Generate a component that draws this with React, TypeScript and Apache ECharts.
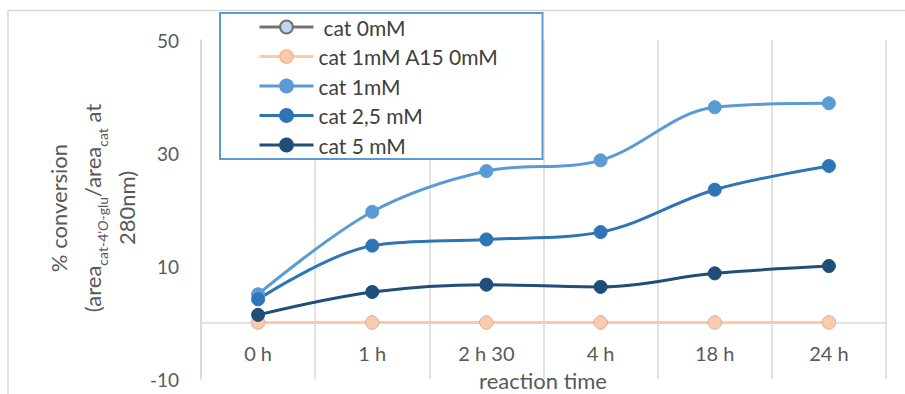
import React, { useEffect, useRef } from 'react';
import * as echarts from 'echarts';

const categories = ['0 h', '1 h', '2 h 30', '4 h', '18 h', '24 h'];
const seriesNames = ['cat 0mM', 'cat 1mM A15 0mM', 'cat 1mM', 'cat 2,5 mM', 'cat 5 mM'];
const cat0mM = [0, 0, 0, 0, 0, 0];
const cat1mMA15 = [0, 0, 0, 0, 0, 0];
const cat1mM = [5.0, 19.6, 26.8, 28.7, 38.1, 38.8];
const cat25mM = [4.1, 13.6, 14.7, 16.0, 23.5, 27.7];
const cat5mM = [1.35, 5.4, 6.7, 6.3, 8.7, 10.0];
const yTickLabels = [-10, 10, 30, 50];
const yMin = -10;
const yMax = 50;
const xTitle = 'reaction time';

export default function App() {
  const ref = useRef<HTMLDivElement>(null);
  useEffect(() => {
    const chart = echarts.init(ref.current!, null, { renderer: 'svg' });
    const font = 'Lato';
    const grey = '#595959';
    const gridColor = '#d9d9d9';
    const gridTop = 40;
    const gridBottom = 15;
    const gridHeight = 394 - gridTop - gridBottom;
    // distance of the zero line above the grid bottom, derived from the value scale
    const zeroOffset = (gridHeight * (0 - yMin)) / (yMax - yMin);
    const mk = (name: string, data: number[], line: string, fill: string, border: string) => ({
      name,
      type: 'line',
      data,
      xAxisIndex: 0,
      smooth: 0.35,
      symbol: 'circle',
      symbolSize: 13,
      lineStyle: { color: line, width: 3 },
      itemStyle: { color: fill, borderColor: border, borderWidth: 1 },
      emphasis: { disabled: true },
    });
    chart.setOption({
      animation: false,
      grid: { left: 201, right: 19, top: gridTop, bottom: gridBottom, containLabel: false, outerBoundsMode: 'none' },
      xAxis: [
        {
          type: 'category',
          data: categories,
          boundaryGap: true,
          axisLine: { onZero: true, lineStyle: { color: gridColor, width: 1.5 } },
          axisTick: { show: false },
          splitLine: { show: true, lineStyle: { color: gridColor, width: 1.5 } },
          axisLabel: { show: false },
        },
        {
          type: 'category',
          data: categories,
          boundaryGap: true,
          position: 'bottom',
          offset: -zeroOffset,
          axisLine: { show: false, onZero: false },
          axisTick: { show: false },
          splitLine: { show: false },
          axisLabel: { color: grey, fontSize: 20, fontFamily: font, margin: 20 },
        },
      ],
      yAxis: {
        type: 'value',
        min: yMin,
        max: yMax,
        interval: 10,
        axisLine: { show: true, lineStyle: { color: gridColor, width: 1.5 } },
        axisTick: { show: false },
        splitLine: { show: false },
        axisLabel: {
          color: grey,
          fontSize: 19,
          fontFamily: font,
          margin: 22,
          formatter: (v: number) => (yTickLabels.includes(v) ? String(v) : ''),
        },
      },
      legend: {
        orient: 'vertical',
        left: 220,
        top: 13,
        padding: [3, 24, 3, 38],
        itemWidth: 54,
        itemHeight: 16,
        itemGap: 7.5,
        itemTextGap: 5,
        backgroundColor: '#ffffff',
        borderColor: '#5B9BD5',
        borderWidth: 2,
        lineStyle: { width: 3 },
        data: seriesNames,
        formatter: (name: string) => (name === 'cat 0mM' ? '{p|' + name + '}' : name),
        textStyle: {
          color: '#404040',
          fontSize: 21,
          fontFamily: font,
          lineHeight: 22,
          width: 200,
          rich: {
            p: { padding: [0, 0, 0, 5], color: '#404040', fontSize: 21, fontFamily: font, lineHeight: 22 },
          },
        },
      },
      graphic: [
        {
          type: 'rect',
          z: -10,
          silent: true,
          shape: { x: 8, y: 10.5, width: 1000, height: 500 },
          style: { fill: 'none', stroke: gridColor, lineWidth: 1.5 },
        },
        {
          type: 'text',
          x: 543,
          y: 380,
          style: { text: xTitle, fill: grey, fontSize: 22, fontFamily: font, align: 'center', verticalAlign: 'middle' },
        },
        {
          type: 'text',
          x: 92,
          y: 208,
          rotation: Math.PI / 2,
          style: {
            text: "{m|% conversion}\n{m|(area}{s|cat-4'}{si|O}{s|-glu}{m|/area}{s|cat}{m| at}\n{m|280nm)}",
            align: 'center',
            verticalAlign: 'middle',
            fill: grey,
            fontSize: 22,
            fontFamily: font,
            rich: {
              m: { fill: grey, fontSize: 22, fontFamily: font, lineHeight: 34 },
              s: { fill: grey, fontSize: 14, fontFamily: font, lineHeight: 24, verticalAlign: 'bottom' },
              si: { fill: grey, fontSize: 14, fontFamily: font, lineHeight: 24, verticalAlign: 'bottom', fontStyle: 'italic' },
            },
          },
        },
      ],
      series: [
        mk(seriesNames[0], cat0mM, '#767171', '#BDD7EE', '#767171'),
        mk(seriesNames[1], cat1mMA15, '#F8CBAD', '#F8CBAD', '#F4BF9C'),
        mk(seriesNames[2], cat1mM, '#5B9BD5', '#5B9BD5', '#5B9BD5'),
        mk(seriesNames[3], cat25mM, '#2E75B6', '#2E75B6', '#2E75B6'),
        mk(seriesNames[4], cat5mM, '#1F4E79', '#1F4E79', '#1F4E79'),
      ],
    });
    return () => chart.dispose();
  }, []);
  return <div ref={ref} style={{ position: 'absolute', left: 0, top: 0, width: 905, height: 394 }} />;
}
